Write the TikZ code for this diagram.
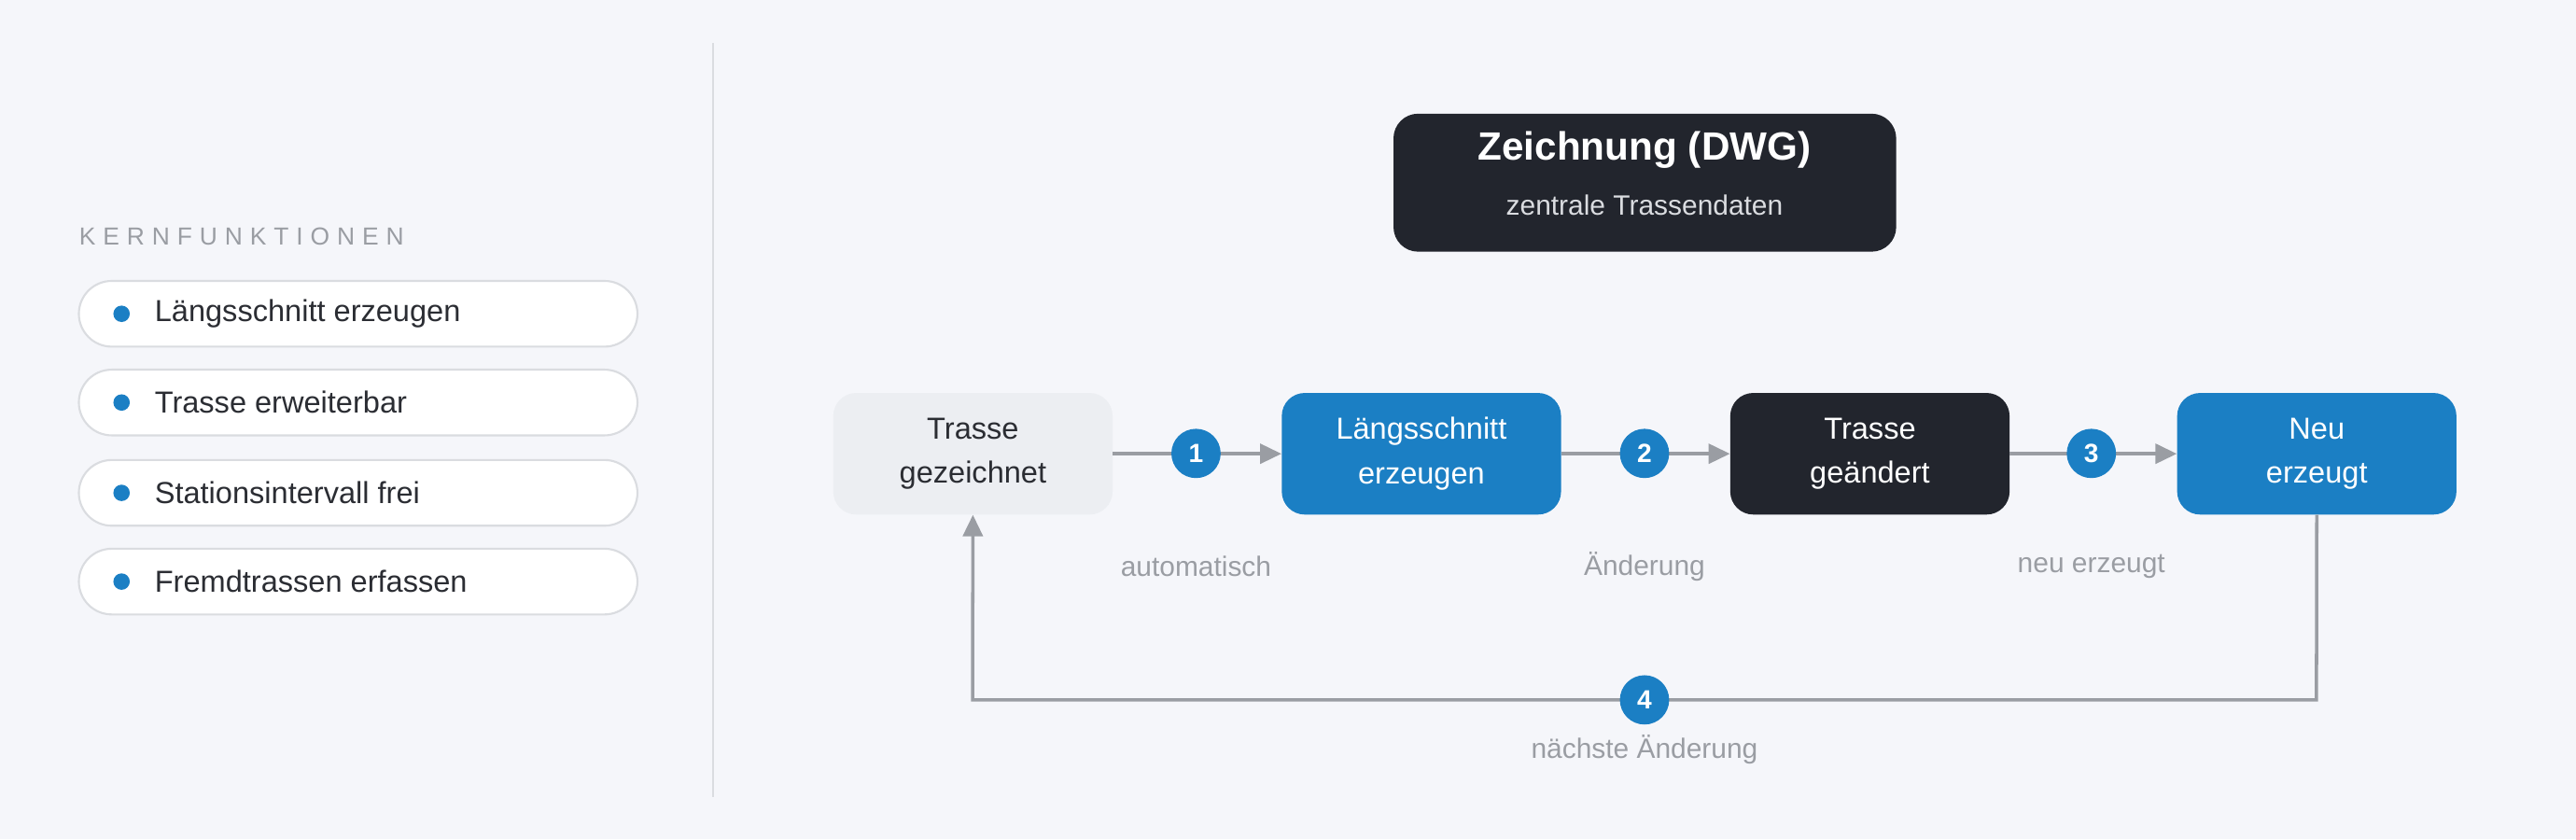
\documentclass[tikz,border=0pt]{standalone}
\usepackage{fontspec}
\setmainfont{Liberation Sans}
\usetikzlibrary{arrows.meta}
\definecolor{bg}{HTML}{F5F6FA}
\definecolor{dark}{HTML}{22252D}
\definecolor{blue}{HTML}{1B7FC4}
\definecolor{lgray}{HTML}{ECEEF2}
\definecolor{txt}{HTML}{2B2D33}
\definecolor{mgray}{HTML}{9A9DA3}
\definecolor{bord}{HTML}{DADCE0}
\begin{document}
\begin{tikzpicture}[x=1pt,y=-1pt,
  pill/.style={draw=bord,line width=1.2pt,fill=white,rounded corners=20pt},
  box/.style={rounded corners=14pt,minimum width=170pt,minimum height=74pt,align=center,font=\fontsize{18.5}{27}\selectfont,anchor=north west},
  num/.style={circle,fill=blue,minimum size=30pt,inner sep=0pt,text=white,font=\fontsize{16}{16}\selectfont\bfseries},
  lab/.style={text=mgray,font=\fontsize{17}{17}\selectfont},
  con/.style={draw=mgray,line width=2pt},
  tip/.style={-{Triangle[length=13pt,width=12pt]}}]
\fill[bg] (0,0) rectangle (1568,511);
\useasboundingbox (0,0) rectangle (1568,511);
\draw[bord,line width=1.5pt] (434,26) -- (434,485);
\node[anchor=west,text=mgray,inner sep=0pt,font=\fontsize{15}{15}\selectfont] (kf) at (48,144) {\addfontfeature{LetterSpace=30}KERNFUNKTIONEN};
\foreach \y/\t [count=\i] in {191/Längsschnitt erzeugen,245/Trasse erweiterbar,300/Stationsintervall frei,354/Fremdtrassen erfassen}{
  \draw[pill] (48,\y-20) rectangle (388,\y+20);
  \fill[blue] (74,\y) circle (5pt);
  \node[anchor=west,inner sep=0pt,text=txt,font=\fontsize{18.5}{18.5}\selectfont] (p\i) at (94,\y) {\t};
}
\node[fill=dark,rounded corners=15pt,minimum width=306pt,minimum height=84pt,anchor=north west] (top) at (848,69) {};
\node[text=white,font=\fontsize{24}{24}\selectfont\bfseries] (tt) at (1001,91) {Zeichnung (DWG)};
\node[text=bord,font=\fontsize{17}{17}\selectfont] (ts) at (1001,125) {zentrale Trassendaten};
\node[box,fill=lgray,text=txt] (b1) at (507,239) {Trasse\\gezeichnet};
\node[box,fill=blue,text=white] (b2) at (780,239) {Längsschnitt\\erzeugen};
\node[box,fill=dark,text=white] (b3) at (1053,239) {Trasse\\geändert};
\node[box,fill=blue,text=white] (b4) at (1325,239) {Neu\\erzeugt};
\draw[con,tip] (b1.east) -- (b2.west);
\draw[con,tip] (b2.east) -- (b3.west);
\draw[con,tip] (b3.east) -- (b4.west);
\node[num] (n1) at (728,276) {1};
\node[num] (n2) at (1001,276) {2};
\node[num] (n3) at (1273,276) {3};
\node[lab] (l1) at (728,345) {automatisch};
\node[lab] (l2) at (1001,345) {Änderung};
\node[lab] (l3) at (1273,345) {neu erzeugt};
\coordinate (c1) at (1410,426);
\coordinate (c2) at (592,426);
\draw[con,tip] (b4.south) -- (c1) -- (c2) -- (b1.south);
\node[num] (n4) at (1001,426) {4};
\node[lab] (l4) at (1001,456) {nächste Änderung};
\end{tikzpicture}
\end{document}
